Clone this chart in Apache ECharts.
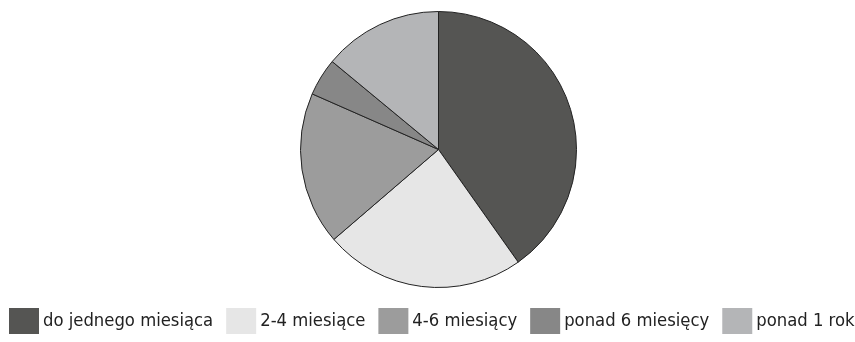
<!DOCTYPE html>
<html>
<head>
<meta charset="utf-8">
<script src="https://cdn.jsdelivr.net/npm/echarts@6/dist/echarts.min.js"></script>
<style>
  html, body { margin: 0; padding: 0; background: #fff; }
  #chart { width: 855px; height: 342px; }
</style>
</head>
<body>
<div id="chart"></div>
<script>
// kategorie i udziały (%)
const categories = ['do jednego miesiąca', '2-4 miesiące', '4-6 miesiący', 'ponad 6 miesięcy', 'ponad 1 rok']
const shares = [40.2, 23.5, 17.9, 4.4, 14.0]
const colors = ['#555553', '#e6e6e6', '#9c9c9c', '#878787', '#b4b5b7']

const chart = echarts.init(document.getElementById('chart'))

const option = {
    animation: false,
    color: colors,
    legend: {
        left: 4,
        top: 303,
        width: 1000,
        icon: 'rect',
        itemWidth: 30,
        itemHeight: 26,
        itemGap: 13,
        itemStyle: { borderWidth: 0 },
        textStyle: {
            fontFamily: '"DejaVu Sans Condensed", "Liberation Sans", sans-serif',
            fontSize: 18.3,
            color: '#222',
            padding: [2, 0, 0, -1]
        },
        data: categories
    },
    series: [
        {
            type: 'pie',
            center: [438.5, 149.5],
            radius: 138,
            startAngle: 90,
            clockwise: true,
            label: { show: false },
            labelLine: { show: false },
            itemStyle: { borderColor: '#222', borderWidth: 1 },
            emphasis: { disabled: true },
            data: categories.map((name, i) => ({ name: name, value: shares[i] }))
        }
    ]
}

chart.setOption(option)
</script>
</body>
</html>
